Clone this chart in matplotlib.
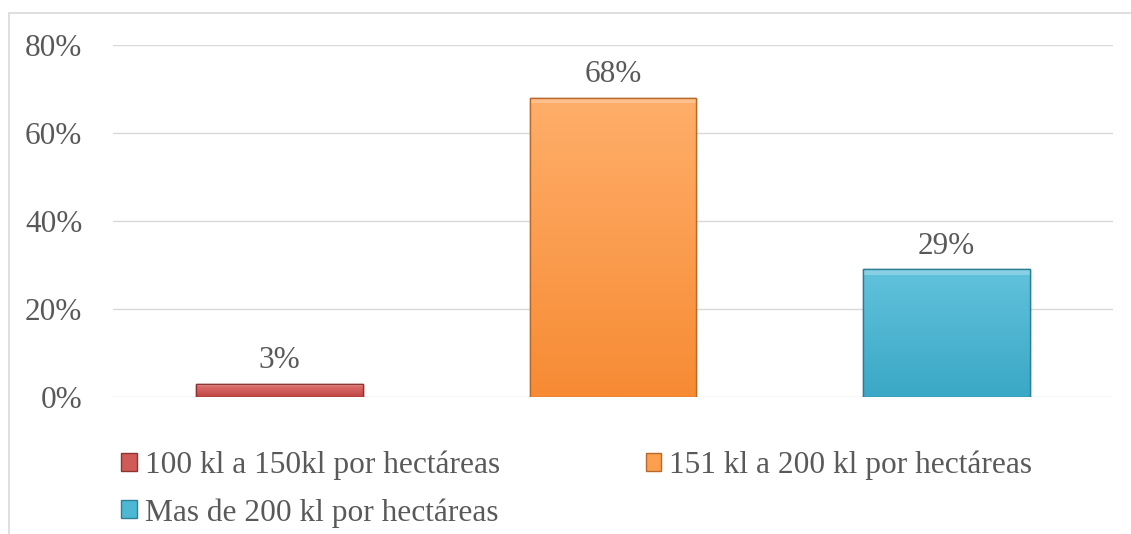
import matplotlib
matplotlib.use("Agg")
import matplotlib.pyplot as plt
import numpy as np
from matplotlib.patches import Rectangle
from matplotlib.colors import LinearSegmentedColormap

categories = ["100 kl a 150kl por hectáreas", "151 kl a 200 kl por hectáreas", "Mas de 200 kl por hectáreas"]
values = [0.03, 0.68, 0.29]
labels = ["3%", "68%", "29%"]
yticks = [0, 0.2, 0.4, 0.6, 0.8]
ytick_labels = ["0%", "20%", "40%", "60%", "80%"]

base_colors = ["#D05A58", "#FCA050", "#4DB8D4"]
top_colors = ["#E47A78", "#FFAE6A", "#62C2DC"]
bot_colors = ["#BE4442", "#F78B34", "#3AA8C6"]
edge_colors = ["#8E3432", "#B8692A", "#2E7F95"]

plt.rcParams['font.family'] = ['Liberation Serif', 'DejaVu Serif']
text_color = "#595959"
FS = 22.5
LFS = 22.6

fig = plt.figure(figsize=(11.31, 5.34), dpi=100)
ax = fig.add_axes([113/1131, 1-397/534, 1000/1131, (397-45)/534])

x = np.arange(len(categories))
bars = ax.bar(x, values, width=0.5, color=base_colors, edgecolor=edge_colors,
              linewidth=1.0, zorder=3)

# gradient fills clipped to bars
for b, tc, bc in zip(bars, top_colors, bot_colors):
    cmap = LinearSegmentedColormap.from_list("g", [bc, tc])
    grad = np.linspace(0, 1, 100).reshape(-1, 1)
    x0, y0, w, h = b.get_x(), b.get_y(), b.get_width(), b.get_height()
    im = ax.imshow(grad, extent=[x0, x0 + w, y0, y0 + h], origin="lower",
                   cmap=cmap, aspect="auto", zorder=3.5)
    im.set_clip_path(b)
    ax.add_patch(Rectangle((x0, y0 + h), w, -min(h * 0.15, 0.012), facecolor="white",
                           alpha=0.25, edgecolor="none", zorder=3.6))
    ax.add_patch(Rectangle((x0, y0), w, h, facecolor="none", edgecolor=b.get_edgecolor(),
                           linewidth=1.0, zorder=3.7))

ax.set_xlim(-0.5, 2.5)
ax.set_ylim(0, 0.8)
ax.set_yticks(yticks)
ax.set_yticklabels(ytick_labels)
ax.set_xticks([])
ax.tick_params(axis="y", length=0, pad=22, labelsize=FS, labelcolor=text_color)
ax.grid(axis="y", color="#D9D9D9", linewidth=1.0, zorder=0)
for s in ax.spines.values():
    s.set_visible(False)

for b, lab in zip(bars, labels):
    ax.annotate(lab, (b.get_x() + b.get_width() / 2, b.get_height()),
                xytext=(0, 6), textcoords="offset points", ha="center", va="bottom",
                fontsize=FS, color=text_color)

handles = [Rectangle((0, 0), 1, 1, facecolor=c, edgecolor=e, linewidth=1.0)
           for c, e in zip(base_colors, edge_colors)]
order = [0, 2, 1]
leg = fig.legend([handles[i] for i in order], [categories[i] for i in order],
                 loc="upper left", bbox_to_anchor=(121/1131, 1-451/534),
                 ncol=2, frameon=False, fontsize=LFS, handlelength=0.5, handleheight=0.5,
                 handletextpad=0.25, columnspacing=4.65, labelspacing=0.56, borderaxespad=0,
                 borderpad=0)
for t in leg.get_texts():
    t.set_color(text_color)

fig.add_artist(Rectangle((9/1131, -0.1), 1.2, 1 - 13/534 + 0.1, transform=fig.transFigure,
                         facecolor="none", edgecolor="#D9D9D9", linewidth=1.2))

fig.savefig("out.png", dpi=100)
